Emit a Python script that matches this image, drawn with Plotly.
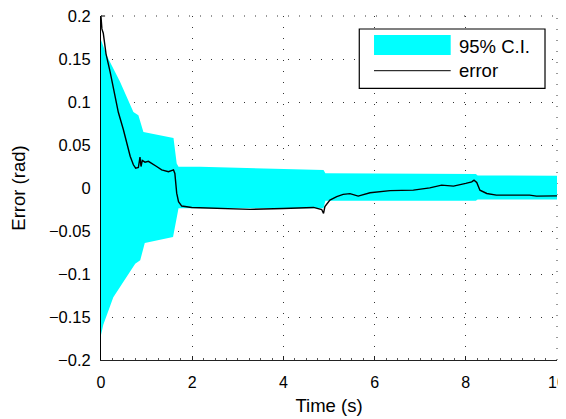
import plotly.graph_objects as go

# ---- data ----
ci_upper_t = [0.0, 0.125, 0.417, 0.71, 0.82, 0.93, 1.59, 1.66, 1.70, 2.17, 4.88, 4.92, 8.22, 8.26, 10.0]
ci_upper = [0.172, 0.154, 0.1235, 0.0885, 0.0846, 0.065, 0.058, 0.0285, 0.0246, 0.0246, 0.0210, 0.0171, 0.0163, 0.0145, 0.0143]

ci_lower_t = [0.0, 0.05, 0.27, 0.56, 0.75, 0.86, 0.96, 1.58, 1.66, 1.70, 4.88, 4.92, 8.22, 8.26, 10.0]
ci_lower = [-0.171, -0.159, -0.127, -0.103, -0.088, -0.084, -0.064, -0.057, -0.037, -0.0236, -0.0236, -0.0148, -0.0148, -0.0133, -0.0133]

err_t = [0.0, 0.02, 0.05, 0.11, 0.20, 0.30, 0.38, 0.49, 0.56, 0.64, 0.71, 0.76, 0.82, 0.855,
         0.877, 0.905, 0.965, 1.04, 1.22, 1.33, 1.48, 1.59, 1.62, 1.66, 1.70, 1.77, 1.99, 2.5,
         3.27, 4.0, 4.66, 4.84, 4.88, 4.91, 5.02, 5.17, 5.31, 5.46, 5.64, 5.9, 6.34, 6.85,
         7.21, 7.47, 7.73, 8.0, 8.13, 8.18, 8.24, 8.31, 8.46, 8.67, 9.04, 9.4, 9.55, 10.0]
err = [0.199, 0.185, 0.180, 0.156, 0.135, 0.108, 0.088, 0.068, 0.053, 0.037, 0.027, 0.023,
       0.024, 0.036, 0.025, 0.032, 0.030, 0.031, 0.025, 0.021, 0.019, 0.021, 0.017, -0.006,
       -0.016, -0.021, -0.0226, -0.0238, -0.0248, -0.0238, -0.0226, -0.025, -0.0295, -0.0217,
       -0.014, -0.010, -0.0074, -0.0065, -0.0094, -0.0055, -0.0031, -0.0025, 0.0002, 0.0033,
       0.0022, 0.0053, 0.0072, 0.0091, 0.0064, -0.0025, -0.0064, -0.0083, -0.0083, -0.0083,
       -0.0095, -0.0092]

x_ticks = [0, 2, 4, 6, 8, 10]
x_tick_labels = ["0", "2", "4", "6", "8", "10"]
y_ticks = [-0.2, -0.15, -0.1, -0.05, 0, 0.05, 0.1, 0.15, 0.2]
y_tick_labels = ["\u22120.2", "\u22120.15", "\u22120.1", "\u22120.05", "0", "0.05", "0.1", "0.15", "0.2"]

legend_labels = ["95% C.I.", "error"]

CYAN = "#00FFFF"
FONT = "Liberation Sans, Arial, sans-serif"
GRIDCOL = "rgba(0,0,0,0.8)"
GRIDDASH = "1px,10px"

fig = go.Figure()
fig.add_trace(go.Scatter(x=ci_lower_t, y=ci_lower, mode="lines", line=dict(width=0, color=CYAN),
                         showlegend=False, hoverinfo="skip"))
fig.add_trace(go.Scatter(x=ci_upper_t, y=ci_upper, mode="lines", line=dict(width=0, color=CYAN),
                         fill="tonexty", fillcolor=CYAN, showlegend=False, name=legend_labels[0]))
fig.add_trace(go.Scatter(x=err_t, y=err, mode="lines", line=dict(width=1.4, color="black"),
                         showlegend=False, name=legend_labels[1]))

grid = dict(showgrid=True, gridcolor=GRIDCOL, gridwidth=1, griddash=GRIDDASH, ticklabeloverflow="allow")

fig.update_xaxes(range=[0, 10], tickvals=x_ticks, ticktext=x_tick_labels, zeroline=False,
                 showline=True, linecolor="#222", linewidth=1, ticks="inside", ticklen=4,
                 tickcolor="#222", layer="below traces", ticklabelstandoff=8,
                 minor=dict(ticks="inside", ticklen=2, dtick=0.25, tickcolor="#555", showgrid=False),
                 tickfont=dict(family=FONT, size=16, color="black"),
                 title=dict(text="Time (s)", font=dict(family=FONT, size=18.5, color="black"), standoff=8),
                 **grid)
fig.update_yaxes(range=[-0.2, 0.2], tickvals=y_ticks, ticktext=y_tick_labels, zeroline=False,
                 showline=True, linecolor="black", linewidth=1, ticks="inside", ticklen=4,
                 tickcolor="black", layer="below traces", ticklabelstandoff=6,
                 tickfont=dict(family=FONT, size=16.5, color="black"),
                 title=dict(text="Error (rad)", font=dict(family=FONT, size=18.5, color="black"), standoff=18),
                 **grid)

# grid lines on the top and right edges of the plot area (plotly drops edge grid lines)
fig.add_shape(type="line", xref="paper", yref="paper", x0=0, x1=1, y0=1, y1=1,
              line=dict(color=GRIDCOL, width=1, dash=GRIDDASH), layer="below")
fig.add_shape(type="line", xref="paper", yref="paper", x0=1, x1=1, y0=0, y1=1,
              line=dict(color=GRIDCOL, width=1, dash=GRIDDASH), layer="below")
# y tick at the top end
fig.add_shape(type="line", xref="paper", yref="paper", x0=0, x1=0.009, y0=1, y1=1,
              line=dict(color="black", width=1), layer="below")

# legend box drawn in paper coordinates
fig.add_shape(type="rect", xref="paper", yref="paper", x0=0.5664, x1=0.9737, y0=0.7898, y1=0.9622,
              line=dict(color="black", width=1.2), fillcolor="white", layer="above")
fig.add_shape(type="rect", xref="paper", yref="paper", x0=0.5987, x1=0.7669, y0=0.8866, y1=0.9448,
              line=dict(width=0), fillcolor=CYAN, layer="above")
fig.add_shape(type="line", xref="paper", yref="paper", x0=0.5987, x1=0.7669, y0=0.8410, y1=0.8410,
              line=dict(color="black", width=1), layer="above")
fig.add_annotation(xref="paper", yref="paper", x=0.780, y=0.912, xanchor="left", yanchor="middle",
                   text=legend_labels[0], showarrow=False, font=dict(family=FONT, size=18.5, color="black"))
fig.add_annotation(xref="paper", yref="paper", x=0.780, y=0.842, xanchor="left", yanchor="middle",
                   text=legend_labels[1], showarrow=False, font=dict(family=FONT, size=18.5, color="black"))

# page body has an 8px default margin, so the figure is offset by (8, 8)
fig.update_layout(width=558, height=411, margin=dict(l=93, r=9, t=8, b=59, autoexpand=False),
                  paper_bgcolor="white", plot_bgcolor="white", showlegend=False)

fig.write_html("out.html")
